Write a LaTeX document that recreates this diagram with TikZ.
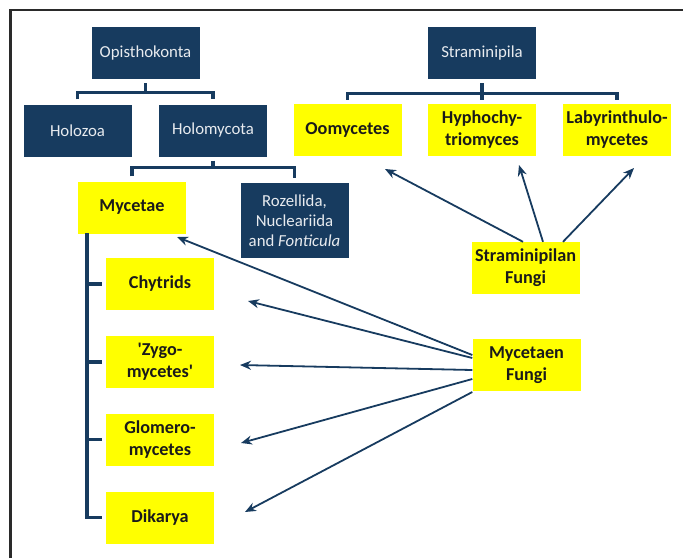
\documentclass[tikz,border=0pt]{standalone}
\usepackage{fontspec}
\setmainfont{Carlito}
\usetikzlibrary{arrows.meta,positioning}
\definecolor{navy}{HTML}{173B5F}
\definecolor{ylw}{HTML}{FFFF00}
\definecolor{ink}{HTML}{1A1A1A}
\definecolor{frm}{HTML}{2A2A2A}
\tikzset{
  >={Stealth[length=11pt,width=9pt]},
  bx/.style={inner sep=0pt,minimum width=108pt,minimum height=52pt,align=center},
  nbx/.style={bx,fill=navy,text=white!90!navy,font=\fontsize{16.8}{20}\selectfont},
  ybx/.style={bx,fill=ylw,text=ink,font=\fontsize{18.2}{22}\selectfont\bfseries},
  brk/.style={draw=navy,line width=3.2pt},
  arr/.style={->,draw=navy,line width=1.8pt},
}
\begin{document}
\begin{tikzpicture}[x=1pt,y=-1pt]
  \useasboundingbox (0,0) rectangle (683,558);
  \draw[frm,line width=2.6pt] (10.5,558) -- (10.5,10) -- (683,10);
  % Opisthokonta side
  \node[nbx] (opi) at (145.5,53) {Opisthokonta};
  \node[nbx] (hzo) at (77.5,130.5) {Holozoa};
  \node[nbx] (hmy) at (213,130.5) {Holomycota};
  \node[ybx] (myc) at (132,207.5) {Mycetae};
  \node[nbx,minimum height=75pt] (roz) at (294.5,220.5) {Rozellida,\\Nucleariida\\and \textit{Fonticula}};
  \node[ybx] (chy) at (160,284) {Chytrids};
  \node[ybx] (zyg) at (160,362) {\textquotesingle Zygo-\\mycetes\textquotesingle};
  \node[ybx] (glo) at (160,439.5) {Glomero-\\mycetes};
  \node[ybx] (dik) at (160,517.5) {Dikarya};
  % Straminipila side
  \node[nbx] (stp) at (482,53) {Straminipila};
  \node[ybx] (oom) at (347.5,130) {Oomycetes};
  \node[ybx] (hyp) at (482,130) {Hyphochy-\\triomyces};
  \node[ybx] (lab) at (617,130) {Labyrinthulo-\\mycetes};
  \node[ybx] (sfu) at (525.5,268) {Straminipilan\\Fungi};
  \node[ybx] (mfu) at (526.5,365) {Mycetaen\\Fungi};
  % brackets
  \draw[brk] ([yshift=-4pt]opi.south) -- ([yshift=12pt]hzo.north -| opi.south);
  \draw[brk] ([yshift=5pt]hzo.north) |- ([yshift=12pt]hzo.north) -| ([yshift=5pt]hmy.north);
  \draw[brk] ([yshift=-4pt]hmy.south) -- ([yshift=14pt]myc.north -| hmy.south);
  \draw[brk] ([yshift=5pt]myc.north) |- ([yshift=14pt]myc.north) -| ([yshift=5pt]roz.north);
  \draw[brk] ([yshift=-4pt]stp.south) -- ([yshift=10pt]oom.north -| stp.south);
  \draw[brk] ([yshift=4pt]oom.north) |- ([yshift=10pt]oom.north) -| ([yshift=4pt]lab.north);
  \draw[brk] ([yshift=4pt]stp.south |- hyp.north) -- ([yshift=10pt]hyp.north);
  \coordinate (spine) at (87,233);
  \draw[brk] (spine) |- ([xshift=-4pt]dik.west);
  \foreach \n in {chy,zyg,glo} \draw[brk] (spine |- \n.west) -- ([xshift=-4pt]\n.west);
  % arrow tips
  \coordinate (toom) at (385,169);
  \coordinate (thyp) at (519,165);
  \coordinate (tlab) at (634,168);
  \coordinate (tmyc) at (177,237);
  \coordinate (tchy) at (248,301);
  \coordinate (tzyg) at (240,365);
  \coordinate (tglo) at (241,443);
  \coordinate (tdik) at (245,512);
  \draw[arr] ([xshift=-2.5pt]sfu.north) -- (toom);
  \draw[arr] ([xshift=17.5pt]sfu.north) -- (thyp);
  \draw[arr] ([xshift=37.5pt]sfu.north) -- (tlab);
  \draw[arr] ([yshift=10pt]mfu.west) -- (tmyc);
  \draw[arr] ([yshift=7pt]mfu.west) -- (tchy);
  \draw[arr] ([yshift=-5pt]mfu.west) -- (tzyg);
  \draw[arr] ([yshift=-14pt]mfu.west) -- (tglo);
  \draw[arr] ([yshift=-27pt]mfu.west) -- (tdik);
\end{tikzpicture}
\end{document}
